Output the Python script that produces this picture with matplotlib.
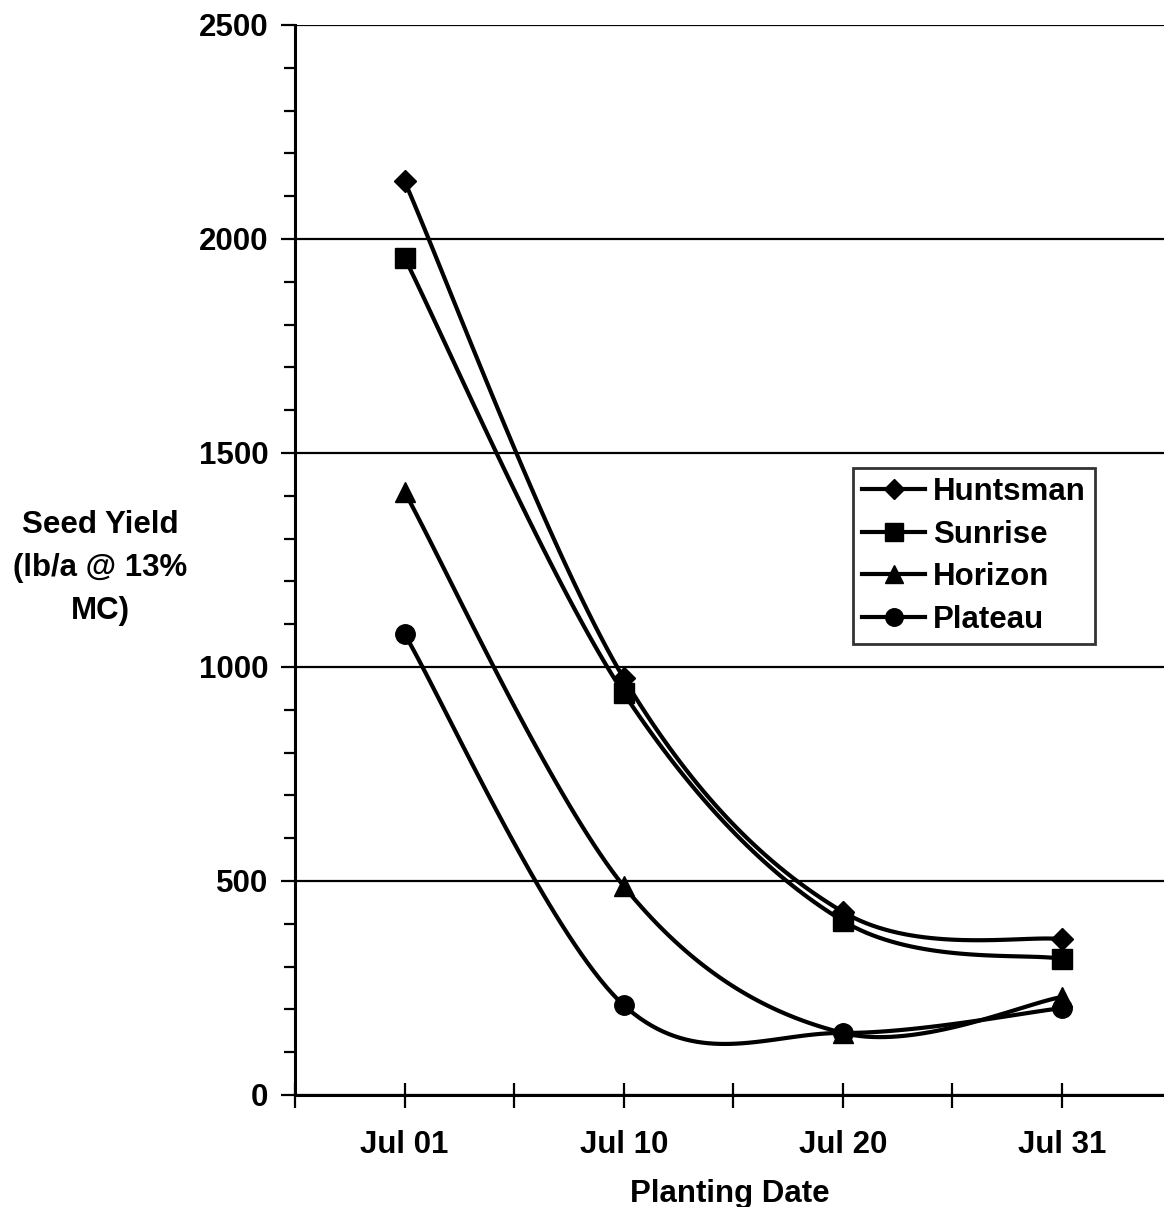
import numpy as np
import matplotlib.pyplot as plt
from matplotlib.ticker import MultipleLocator

# planting dates and seed yield (lb/a @ 13% MC)
dates = ['Jul 01', 'Jul 10', 'Jul 20', 'Jul 31']
huntsman = [2135, 974, 428, 364]
sunrise = [1956, 939, 407, 318]
horizon = [1409, 488, 145, 229]
plateau = [1077, 210, 145, 203]

series = [('Huntsman', huntsman, 'D', 11),
          ('Sunrise', sunrise, 's', 15),
          ('Horizon', horizon, '^', 15),
          ('Plateau', plateau, 'o', 14)]


def smooth(xs, ys, n=40):
    # excel style smoothed line: cubic bezier through each point pair
    p = np.column_stack([xs, ys]).astype(float)
    p = np.vstack([p[0], p, p[-1]])
    out = []
    t = np.linspace(0, 1, n)[:, None]
    for i in range(1, len(p) - 2):
        b0 = p[i]
        b3 = p[i + 1]
        b1 = b0 + (p[i + 1] - p[i - 1]) / 6.
        b2 = b3 - (p[i + 2] - p[i]) / 6.
        seg = ((1 - t)**3 * b0 + 3 * (1 - t)**2 * t * b1
               + 3 * (1 - t) * t**2 * b2 + t**3 * b3)
        out.append(seg if i == 1 else seg[1:])
    out = np.vstack(out)
    return out[:, 0], out[:, 1]


plt.rcParams['font.family'] = ['Liberation Sans', 'DejaVu Sans']
plt.rcParams['font.weight'] = 'bold'
fs = 22.5

fig = plt.figure(figsize=(11.64, 12.07), dpi=100)
ax = fig.add_axes([295/1164., 1 - 1095/1207., (1164 - 295)/1164., (1095 - 25)/1207.])

x = np.arange(len(dates))
for name, vals, mk, ms in series:
    sx, sy = smooth(x, vals)
    ax.plot(sx, sy, 'k-', lw=3, solid_capstyle='round', zorder=3)
    ax.plot(x, vals, ls='none', marker=mk, ms=ms, color='k', zorder=4)
    ax.plot([], [], 'k-', lw=3, marker=mk, ms=ms, label=name)

ax.set_xlim(-0.5, (1164 - 405) / 219.)
ax.set_ylim(0, 2500)
ax.set_xticks(x)
ax.set_xticklabels(dates)
ax.xaxis.set_minor_locator(MultipleLocator(0.5))
ax.yaxis.set_major_locator(MultipleLocator(500))
ax.yaxis.set_minor_locator(MultipleLocator(100))
ax.grid(axis='y', which='major', color='k', lw=1.6)
ax.set_axisbelow(True)

for s in ['top', 'right']:
    ax.spines[s].set_visible(False)
for s in ['left', 'bottom']:
    ax.spines[s].set_linewidth(2.2)

ax.tick_params(axis='y', which='major', direction='out', length=10, width=1.6,
               labelsize=fs, pad=9)
ax.tick_params(axis='y', which='minor', direction='out', length=8, width=1.6)
ax.tick_params(axis='x', which='both', direction='inout', length=18, width=1.6,
               labelsize=fs, pad=16)

ax.set_xlabel('Planting Date', fontsize=fs, fontweight='bold', labelpad=14)
fig.text(100/1164., 1 - 568/1207., 'Seed Yield\n(lb/a @ 13%\nMC)', ha='center',
         va='center', fontsize=fs, fontweight='bold', linespacing=1.55)

leg = ax.legend(loc='upper left', bbox_to_anchor=((853 - 295)/869., (1095 - 468)/1070.),
                fontsize=fs, frameon=True, fancybox=False, edgecolor='k',
                handlelength=2.0, handletextpad=0.25, borderpad=0.3,
                labelspacing=0.4, borderaxespad=0, markerscale=0.9)
leg.get_frame().set_linewidth(2)

fig.savefig('out.png', dpi=100)
plt.close()
